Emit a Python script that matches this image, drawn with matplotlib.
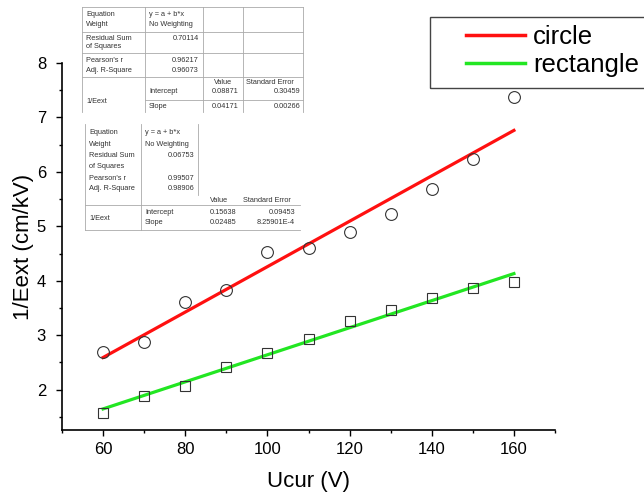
import matplotlib.pyplot as plt
from matplotlib.ticker import MultipleLocator
from matplotlib.lines import Line2D
from matplotlib.patches import Rectangle

plt.rcParams['font.family'] = ['Liberation Sans', 'DejaVu Sans']

# measured points
ucur = [60, 70, 80, 90, 100, 110, 120, 130, 140, 150, 160]
circle = [2.69, 2.88, 3.61, 3.83, 4.53, 4.61, 4.89, 5.23, 5.68, 6.23, 7.38]
rectangle = [1.57, 1.88, 2.06, 2.41, 2.67, 2.93, 3.27, 3.46, 3.69, 3.86, 3.97]

# linear fit results (from the fit tables)
circle_fit = [0.08871, 0.04171]
rect_fit = [0.15638, 0.02485]

# fit table contents
row_labels = ['Equation', 'Weight', 'Residual Sum', 'of Squares', "Pearson's r", 'Adj. R-Square']
stats_circle = ['y = a + b*x', 'No Weighting', '0.70114', '0.96217', '0.96073']
stats_rect = ['y = a + b*x', 'No Weighting', '0.06753', '0.99507', '0.98906']
coef_circle = [['0.08871', '0.30459'], ['0.04171', '0.00266']]
coef_rect = [['0.15638', '0.09453'], ['0.02485', '8.25901E-4']]

W, H = 644, 493
fig = plt.figure(figsize=(W / 100, H / 100), dpi=100)
ax = fig.add_axes([62 / W, 1 - 430 / H, (555 - 62) / W, (430 - 63) / H])

ax.plot(ucur, circle, 'o', mfc='none', mec='#333333', ms=8.5, mew=0.8, zorder=3)
ax.plot(ucur, rectangle, 's', mfc='none', mec='#333333', ms=7.5, mew=0.8, zorder=3)

xs = [ucur[0], ucur[-1]]
ax.plot(xs, [circle_fit[0] + circle_fit[1] * x for x in xs], color='#ff1010', lw=2.3, zorder=2)
ax.plot(xs, [rect_fit[0] + rect_fit[1] * x for x in xs], color='#22e622', lw=2.3, zorder=2)

ax.set_xlim(50, 170)
ax.set_ylim(1.26, 8)
ax.set_xticks([60, 80, 100, 120, 140, 160])
ax.xaxis.set_minor_locator(MultipleLocator(10))
ax.set_yticks([2, 3, 4, 5, 6, 7, 8])
ax.yaxis.set_minor_locator(MultipleLocator(0.5))
ax.spines['top'].set_visible(False)
ax.spines['right'].set_visible(False)
for s in ['left', 'bottom']:
    ax.spines[s].set_linewidth(1.2)
ax.tick_params(which='major', direction='out', length=4.5, width=1, labelsize=12, pad=4)
ax.tick_params(axis='y', which='major', pad=7)
ax.tick_params(which='minor', direction='out', length=2.5, width=1)

ax.set_xlabel('Ucur (V)', fontsize=16, labelpad=10)
ax.set_ylabel('1/Eext (cm/kV)', fontsize=16, labelpad=2)

# legend (frame drawn separately, it runs off the right edge)
fig.add_artist(Rectangle((430 / W, 1 - 88 / H), 230 / W, 71 / H, transform=fig.transFigure,
                         fill=False, edgecolor='#444444', lw=1.0))
handles = [Line2D([], [], color='#ff1010', lw=2.5), Line2D([], [], color='#22e622', lw=2.5)]
fig.legend(handles, ['circle', 'rectangle'], loc='center left',
           bbox_to_anchor=(466 / W, 1 - 51 / H), fontsize=18.5, frameon=False,
           handlelength=2.3, handletextpad=0.3, borderpad=0, labelspacing=0.18,
           borderaxespad=0)


def hline(x0, x1, y):
    fig.add_artist(Line2D([x0 / W, x1 / W], [1 - y / H, 1 - y / H], color='#aaaaaa', lw=0.6))


def vline(x, y0, y1):
    fig.add_artist(Line2D([x / W, x / W], [1 - y0 / H, 1 - y1 / H], color='#aaaaaa', lw=0.6))


def txt(x, y, s, ha='left'):
    fig.text(x / W, 1 - y / H, s, fontsize=5.3, ha=ha, va='center', color='#333333')


def fit_table(left, cols, right, ys, stats, coef, hl, vl):
    c1, c2, c3 = cols
    for x0, x1, y in hl:
        hline(x0, x1, y)
    for x, y0, y1 in vl:
        vline(x, y0, y1)
    for i in range(6):
        txt(left + 4, ys[i], row_labels[i])
    txt(c1 + 4, ys[0], stats[0])
    txt(c1 + 4, ys[1], stats[1])
    txt(c2 - 4, ys[2], stats[2], 'right')
    txt(c2 - 4, ys[4], stats[3], 'right')
    txt(c2 - 4, ys[5], stats[4], 'right')
    txt((c2 + c3) / 2, ys[6], 'Value', 'center')
    txt(c3 + 3, ys[6], 'Standard Error')
    txt(left + 4, (ys[7] + ys[8]) / 2 + 2, '1/Eext')
    txt(c1 + 4, ys[7], 'Intercept')
    txt(c1 + 4, ys[8], 'Slope')
    txt(c3 - 4, ys[7], coef[0][0], 'right')
    txt(c3 - 4, ys[8], coef[1][0], 'right')
    txt(right - 3, ys[7], coef[0][1], 'right')
    txt(right - 3, ys[8], coef[1][1], 'right')


fit_table(82, (145, 203, 243), 303,
          [15, 25, 38, 47, 60, 71, 82, 92, 107],
          stats_circle, coef_circle,
          [(82, 303, 7), (82, 303, 32), (82, 303, 53), (82, 303, 77), (145, 303, 100)],
          [(82, 7, 112), (145, 7, 112), (203, 7, 112), (243, 7, 112), (303, 7, 112)])
fit_table(85, (141, 198, 240), 298,
          [133, 144, 156, 166, 178, 189, 200, 212, 222],
          stats_rect, coef_rect,
          [(85, 300, 205), (85, 300, 230)],
          [(85, 124, 230), (141, 124, 230), (198, 124, 195)])

fig.savefig('out.png', dpi=100)
